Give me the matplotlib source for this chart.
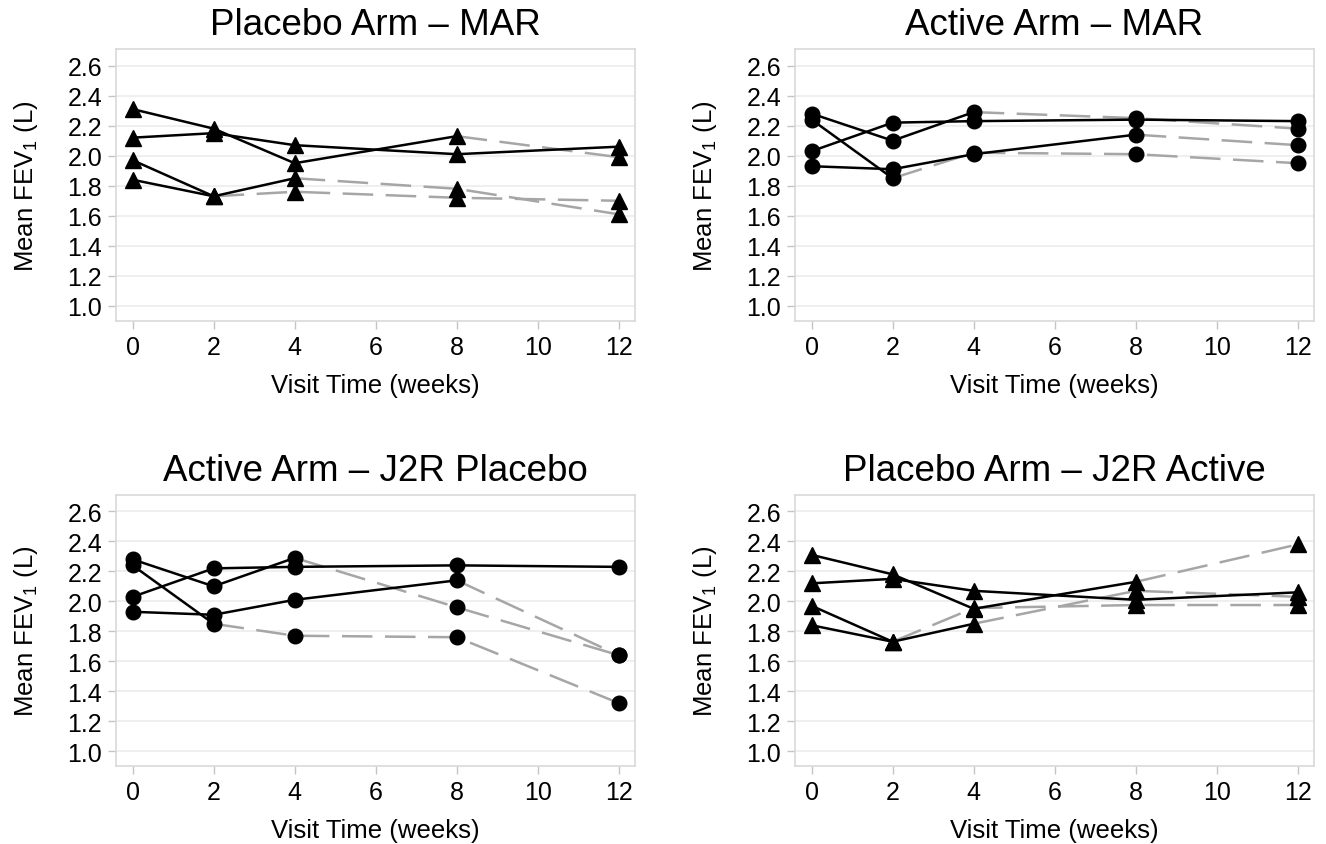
import matplotlib
matplotlib.use("Agg")
import matplotlib.pyplot as plt

plt.rcParams['font.family'] = ['Liberation Sans', 'DejaVu Sans']
plt.rcParams['mathtext.fontset'] = 'custom'
plt.rcParams['mathtext.rm'] = 'Liberation Sans'
plt.rcParams['mathtext.it'] = 'Liberation Sans:italic'
plt.rcParams['lines.scale_dashes'] = False

# ---------------- data ----------------
weeks = [0, 2, 4, 8, 12]
x_ticks = [0, 2, 4, 6, 8, 10, 12]
y_ticks = [1.0, 1.2, 1.4, 1.6, 1.8, 2.0, 2.2, 2.4, 2.6]

# observed values (subject drops out after its last listed visit)
placebo_s1 = [2.31, 2.18, 1.95, 2.13]
placebo_s2 = [2.12, 2.15, 2.07, 2.01, 2.06]
placebo_s3 = [1.97, 1.73, 1.85]
placebo_s4 = [1.84, 1.73]

active_a1 = [2.28, 2.10, 2.29]
active_a2 = [2.03, 2.22, 2.23, 2.24, 2.23]
active_a3 = [1.93, 1.91, 2.01, 2.14]
active_a4 = [2.24, 1.85]

# imputed values for the visits after dropout
placebo_mar_s1 = [1.99]
placebo_mar_s3 = [1.78, 1.61]
placebo_mar_s4 = [1.76, 1.72, 1.70]

active_mar_a1 = [2.25, 2.18]
active_mar_a3 = [2.07]
active_mar_a4 = [2.02, 2.01, 1.95]

active_j2r_a1 = [1.96, 1.64]
active_j2r_a3 = [1.64]
active_j2r_a4 = [1.77, 1.76, 1.32]

placebo_j2r_s1 = [2.38]
placebo_j2r_s3 = [2.07, 2.03]
placebo_j2r_s4 = [1.955, 1.975, 1.975]

titles = ["Placebo Arm – MAR", "Active Arm – MAR",
          "Active Arm – J2R Placebo", "Placebo Arm – J2R Active"]
x_label = "Visit Time (weeks)"
y_label = "Mean FEV$\\mathregular{_1}$ (L)"

panels = [
    (titles[0], '^', [(placebo_s1, placebo_mar_s1), (placebo_s2, []),
                      (placebo_s3, placebo_mar_s3), (placebo_s4, placebo_mar_s4)]),
    (titles[1], 'o', [(active_a1, active_mar_a1), (active_a2, []),
                      (active_a3, active_mar_a3), (active_a4, active_mar_a4)]),
    (titles[2], 'o', [(active_a1, active_j2r_a1), (active_a2, []),
                      (active_a3, active_j2r_a3), (active_a4, active_j2r_a4)]),
    (titles[3], '^', [(placebo_s1, placebo_j2r_s1), (placebo_s2, []),
                      (placebo_s3, placebo_j2r_s3), (placebo_s4, placebo_j2r_s4)]),
]

# ---------------- figure ----------------
W, H = 1326, 845
fig = plt.figure(figsize=(W / 100, H / 100), dpi=100)

def px_axes(l, t, r, b):
    return [l / W, 1 - b / H, (r - l) / W, (b - t) / H]

positions = [
    px_axes(116, 50, 635, 322),
    px_axes(795, 50, 1314, 322),
    px_axes(116, 496, 635, 767),
    px_axes(795, 496, 1314, 767),
]

frame_col = '#d9d9d9'
grid_col = '#ececec'
dash_col = '#a6a6a6'

for pos, (title, marker, subjects) in zip(positions, panels):
    ax = fig.add_axes(pos)
    ms = 11.5 if marker == '^' else 10.5
    for obs, imp in subjects:
        if imp:
            n = len(obs)
            xi = weeks[n - 1:n + len(imp)]
            yi = [obs[-1]] + list(imp)
            ax.plot(xi, yi, color=dash_col, lw=1.8, dashes=(22, 9),
                    zorder=2, solid_capstyle='butt', dash_capstyle='butt')
    for obs, imp in subjects:
        ax.plot(weeks[:len(obs)], obs, color='black', lw=1.8, zorder=3)
    for obs, imp in subjects:
        allv = list(obs) + list(imp)
        ax.plot(weeks[:len(allv)], allv, linestyle='none', marker=marker,
                ms=ms, color='black', mec='black', zorder=4)

    ax.set_xlim(-0.41, 12.4)
    ax.set_ylim(0.9, 2.71)
    ax.set_xticks(x_ticks)
    ax.set_yticks(y_ticks)
    ax.set_yticklabels([f"{v:.1f}" for v in y_ticks])
    ax.yaxis.grid(True, color=grid_col, lw=1.2)
    ax.xaxis.grid(False)
    ax.set_axisbelow(True)
    for s in ax.spines.values():
        s.set_color(frame_col)
        s.set_linewidth(1.2)
    ax.tick_params(axis='both', which='major', labelsize=18, length=6,
                   width=1.0, color='#c4c4c4', pad=4, labelcolor='black')
    ax.set_title(title, fontsize=26.5, pad=11)
    ax.set_xlabel(x_label, fontsize=18.5, labelpad=10)
    ax.set_ylabel(y_label, fontsize=18.5, labelpad=20)

fig.savefig("out.png", dpi=100)
